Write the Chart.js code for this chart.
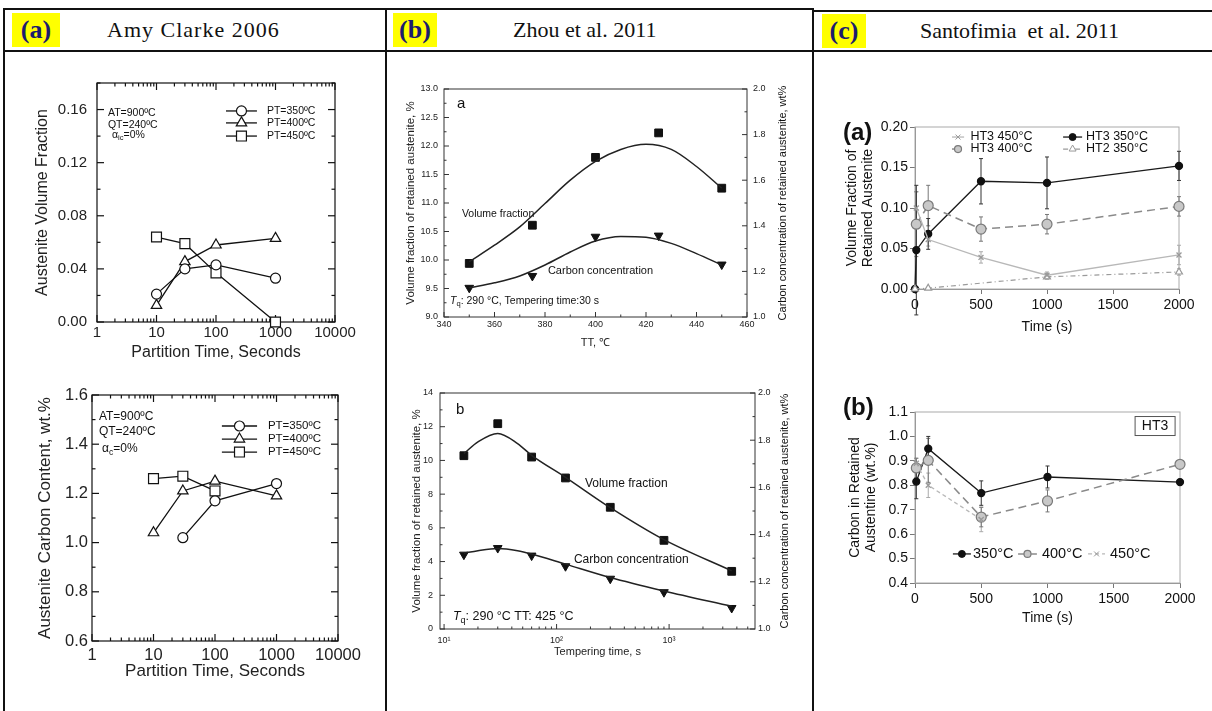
<!DOCTYPE html>
<html>
<head>
<meta charset="utf-8">
<script src="https://cdn.jsdelivr.net/npm/chart.js@4.4.1/dist/chart.umd.min.js"></script>
<style>
body { margin: 0; background: #fff; width: 1212px; height: 711px; overflow: hidden; position: relative; font-family: 'Liberation Serif', serif; }
.ln { position: absolute; background: #111; }
.tag { position: absolute; background: #ffff00; color: #1c1c6e; font-weight: bold; font-size: 26px; line-height: 34px; text-align: center; }
.hd { position: absolute; font-size: 22px; line-height: 34px; color: #111; white-space: pre; }
canvas { position: absolute; }
</style>
</head>
<body>
<div class="ln" style="left:3px;top:8px;width:810px;height:2px"></div>
<div class="ln" style="left:813px;top:10px;width:399px;height:2px"></div>
<div class="ln" style="left:3px;top:50px;width:1209px;height:2px"></div>
<div class="ln" style="left:3px;top:8px;width:2px;height:703px"></div>
<div class="ln" style="left:385px;top:8px;width:2px;height:703px"></div>
<div class="ln" style="left:812px;top:8px;width:2px;height:703px"></div>

<div class="tag" style="left:12px;top:13px;width:48px;height:34px">(a)</div>
<div class="hd" style="left:107px;top:13px;letter-spacing:1px">Amy Clarke 2006</div>
<div class="tag" style="left:393px;top:13px;width:44px;height:34px">(b)</div>
<div class="hd" style="left:513px;top:13px">Zhou et al. 2011</div>
<div class="tag" style="left:822px;top:14px;width:44px;height:34px">(c)</div>
<div class="hd" style="left:920px;top:14px">Santofimia  et al. 2011</div>

<canvas id="a1" width="372" height="300" style="left:6px;top:62px"></canvas>
<canvas id="a2" width="372" height="310" style="left:6px;top:372px"></canvas>
<canvas id="b1" width="410" height="290" style="left:392px;top:66px"></canvas>
<canvas id="b2" width="410" height="290" style="left:392px;top:372px"></canvas>
<canvas id="c1" width="390" height="270" style="left:818px;top:70px"></canvas>
<canvas id="c2" width="390" height="255" style="left:818px;top:380px"></canvas>

<script>
// ---- (a) Clarke 2006: partition time (s) ----
const clarkeTime = [10, 30, 100, 1000];
const clarkeVf350 = [0.021, 0.040, 0.043, 0.033];
const clarkeVf400 = [0.0125, 0.0455, 0.058, 0.063];
const clarkeVf450 = [0.064, 0.059, 0.037, 0.000];
const clarkeC350 = [null, 1.02, 1.17, 1.24];
const clarkeC400 = [1.04, 1.21, 1.25, 1.19];
const clarkeC450 = [1.26, 1.27, 1.21, null];
const clarkeTicks = [1, 10, 100, 1000, 10000];

// ---- (b) Zhou 2011 ----
const zhouTT = [350, 375, 400, 425, 450];
const zhouVfTT = [9.94, 10.61, 11.80, 12.23, 11.26];
const zhouCTT = [1.128, 1.180, 1.352, 1.357, 1.230];
const zhouFitTT = [350, 360, 370, 380, 390, 400, 410, 420, 430, 440, 450];
const zhouVfFitTT = [9.97, 10.26, 10.58, 10.99, 11.40, 11.73, 11.94, 12.03, 11.94, 11.64, 11.26];
const zhouCFitTT = [1.128, 1.150, 1.180, 1.228, 1.285, 1.333, 1.353, 1.350, 1.323, 1.278, 1.228];
const zhouTime = [15, 30, 60, 120, 300, 900, 3600];
const zhouVfTime = [10.28, 12.18, 10.20, 8.96, 7.22, 5.26, 3.42];
const zhouCTime = [1.315, 1.343, 1.311, 1.266, 1.213, 1.156, 1.089];
const zhouFitTime = [15, 20, 30, 45, 60, 120, 300, 900, 3600];
const zhouVfFitTime = [10.4, 11.1, 11.6, 11.0, 10.3, 9.0, 7.2, 5.3, 3.45];
const zhouCFitTime = [1.321, 1.332, 1.341, 1.332, 1.318, 1.275, 1.218, 1.161, 1.096];
const zhouTimeTicks = [10, 100, 1000];
const zhouTimeLabels = ['10¹', '10²', '10³'];

// ---- (c) Santofimia 2011 ----
const htTime = [0, 10, 100, 500, 1000, 2000];
const vfHT3_350 = [0, 0.048, 0.068, 0.133, 0.131, 0.152];
const vfHT3_350Err = [0, 0.08, 0.019, 0.028, 0.032, 0.018];
const vfHT3_400 = [null, 0.080, 0.103, 0.074, 0.080, 0.102];
const vfHT3_400Err = [0, 0.04, 0.025, 0.015, 0.012, 0.012];
const vfHT3_450 = [null, 0.100, 0.061, 0.039, 0.017, 0.042];
const vfHT3_450Err = [0, 0.02, 0.008, 0.007, 0.004, 0.012];
const vfHT2_350 = [0, null, 0.001, null, 0.015, 0.021];
const vfHT2_350Err = [0, 0, 0, 0, 0.003, 0.004];
const cTime = [10, 100, 500, 1000, 2000];
const c350 = [0.815, 0.95, 0.768, 0.834, 0.813];
const c350Err = [0.07, 0.05, 0.05, 0.045, 0];
const c400 = [0.871, 0.902, 0.670, 0.736, 0.886];
const c400Err = [0.04, 0.09, 0.04, 0.045, 0];
const c450 = [0.89, 0.80, 0.66, null, null];
const c450Err = [0.02, 0.05, 0.05, 0, 0];

const FAM = "'Liberation Sans', Arial, sans-serif";
Chart.defaults.font.family = FAM;

const pts = (xs, ys, es) => xs.map((x, i) => ({x: x, y: ys[i], e: es ? es[i] : 0})).filter(p => p.y !== null);

// frame round the plot and inward tick marks on the chosen sides
const frameTicks = {
  id: 'frameTicks',
  beforeDatasetsDraw(chart, args, o) {
    if (!o || !o.color) return;
    const {ctx, chartArea: a} = chart;
    ctx.save();
    ctx.strokeStyle = o.color;
    ctx.lineWidth = o.lw || 1;
    ctx.strokeRect(a.left, a.top, a.right - a.left, a.bottom - a.top);
    (o.axes || []).forEach(ax => {
      const sc = chart.scales[ax.id];
      const major = sc.ticks.map(t => t.value);
      const minor = [];
      if (ax.minor === 'log') {
        for (let d = Math.floor(Math.log10(sc.min)); d <= Math.ceil(Math.log10(sc.max)); d++) {
          for (let k = 2; k <= 9; k++) {
            const v = k * Math.pow(10, d);
            if (v > sc.min && v < sc.max) minor.push(v);
          }
        }
      } else if (ax.minor) {
        for (let v = Math.ceil(sc.min / ax.minor - 1e-9) * ax.minor; v <= sc.max + 1e-9; v += ax.minor) {
          if (!major.some(m => Math.abs(m - v) < 1e-6)) minor.push(v);
        }
      }
      const draw = (v, L) => {
        const p = sc.getPixelForValue(v);
        ax.sides.forEach(s => {
          ctx.beginPath();
          if (s === 'bottom') { ctx.moveTo(p, a.bottom); ctx.lineTo(p, a.bottom - L); }
          if (s === 'top') { ctx.moveTo(p, a.top); ctx.lineTo(p, a.top + L); }
          if (s === 'left') { ctx.moveTo(a.left, p); ctx.lineTo(a.left + L, p); }
          if (s === 'right') { ctx.moveTo(a.right, p); ctx.lineTo(a.right - L, p); }
          ctx.stroke();
        });
      };
      major.forEach(v => draw(v, ax.len));
      minor.forEach(v => draw(v, ax.len / 2));
    });
    ctx.restore();
  }
};

// vertical error bars, e stored with each point
const errorBars = {
  id: 'errorBars',
  beforeDatasetsDraw(chart) {
    const ctx = chart.ctx;
    chart.data.datasets.forEach((ds, i) => {
      const meta = chart.getDatasetMeta(i);
      const ys = chart.scales[meta.yAxisID];
      ctx.save();
      ctx.strokeStyle = ds.errColor || ds.borderColor;
      ctx.lineWidth = 1;
      ds.data.forEach((p, j) => {
        if (!p.e) return;
        const x = meta.data[j].x;
        const y0 = ys.getPixelForValue(p.y - p.e), y1 = ys.getPixelForValue(p.y + p.e);
        ctx.beginPath();
        ctx.moveTo(x, y0); ctx.lineTo(x, y1);
        ctx.moveTo(x - 2, y0); ctx.lineTo(x + 2, y0);
        ctx.moveTo(x - 2, y1); ctx.lineTo(x + 2, y1);
        ctx.stroke();
      });
      ctx.restore();
    });
  }
};

// free text and hand placed legend rows
const notes = {
  id: 'notes',
  afterDraw(chart, args, o) {
    const {ctx, chartArea: a} = chart;
    const W = a.right - a.left, H = a.bottom - a.top;
    const write = (it, x, y) => {
      const size = it.size;
      const fontOf = p => (p.italic ? 'italic ' : '') + (it.bold ? 'bold ' : '') + (p.sub ? size * 0.72 : size) + 'px ' + FAM;
      const parts = it.parts || [{t: it.text}];
      ctx.save();
      ctx.translate(x, y);
      if (it.rot) ctx.rotate(it.rot * Math.PI / 180);
      ctx.fillStyle = it.color || '#111';
      ctx.textBaseline = 'middle';
      let total = 0;
      parts.forEach(p => { ctx.font = fontOf(p); total += ctx.measureText(p.t).width; });
      let cx = it.align === 'center' ? -total / 2 : 0;
      parts.forEach(p => {
        ctx.font = fontOf(p);
        ctx.fillText(p.t, cx, p.sub ? size * 0.3 : 0);
        cx += ctx.measureText(p.t).width;
      });
      if (it.box) {
        ctx.strokeStyle = '#555';
        ctx.lineWidth = 1;
        ctx.strokeRect(-it.box[0] / 2, -it.box[1] / 2, it.box[0], it.box[1]);
      }
      ctx.restore();
    };
    (o.items || []).forEach(it => {
      write(it, a.left + (it.fx || 0) * W + (it.ox || 0), a.top + (it.fy || 0) * H + (it.oy || 0));
    });
    (o.legend || []).forEach(lg => {
      const ds = chart.data.datasets[lg.ds];
      const x0 = a.left + lg.fx0 * W, x1 = a.left + lg.fx1 * W, y = a.top + lg.fy * H;
      ctx.save();
      ctx.strokeStyle = ds.borderColor;
      ctx.lineWidth = ds.borderWidth || 1;
      ctx.setLineDash(ds.borderDash || []);
      ctx.beginPath(); ctx.moveTo(x0, y); ctx.lineTo(x1, y); ctx.stroke();
      ctx.setLineDash([]);
      ctx.fillStyle = ds.pointBackgroundColor || '#fff';
      ctx.strokeStyle = ds.pointBorderColor || ds.borderColor;
      ctx.lineWidth = ds.pointBorderWidth || 1;
      Chart.helpers.drawPoint(ctx, {pointStyle: ds.pointStyle, radius: lg.r || ds.pointRadius, rotation: ds.pointRotation || 0, borderWidth: ctx.lineWidth}, (x0 + x1) / 2, y);
      ctx.restore();
      write({text: lg.text, size: lg.size, color: lg.color}, a.left + lg.tfx * W, y);
    });
  }
};

const base = (pad) => ({
  responsive: false,
  animation: false,
  layout: {padding: pad},
  plugins: {legend: {display: false}, tooltip: {enabled: false}}
});
const noGrid = {display: false, drawTicks: false};

// ---------- (a) Clarke ----------
function clarkeSet(data, style, r) {
  return {data: data, borderColor: '#111', borderWidth: 1.3, pointStyle: style, pointRadius: r,
    pointBackgroundColor: '#fff', pointBorderColor: '#111', pointBorderWidth: 1.2, clip: false, tension: 0};
}
function clarkeScales(opt) {
  return {
    x: {type: 'logarithmic', min: 1, max: 10000,
      afterBuildTicks: s => { s.ticks = clarkeTicks.map(v => ({value: v})); },
      afterFit: s => { s.height = opt.xh; },
      grid: noGrid, border: {display: false},
      ticks: {padding: opt.xpad, color: '#222', maxRotation: 0, autoSkip: false, font: {size: opt.fs}, callback: v => String(v)},
      title: {display: true, text: 'Partition Time, Seconds', color: '#222', font: {size: opt.ts}, padding: {top: 0, bottom: 0}}},
    y: {min: opt.ymin, max: opt.ymax,
      afterFit: s => { s.width = opt.yw; },
      grid: noGrid, border: {display: false},
      ticks: {stepSize: opt.step, includeBounds: false, padding: opt.ypad, color: '#222', font: {size: opt.fs}, callback: v => v.toFixed(opt.dec)},
      title: {display: true, text: opt.ytitle, color: '#222', font: {size: opt.ts}, padding: {top: opt.ytp, bottom: 0}}}
  };
}

const a1 = base({top: 21, right: 43, left: 0, bottom: 0});
a1.scales = clarkeScales({xh: 40, xpad: 2, fs: 15, ts: 16, ymin: 0, ymax: 0.18, yw: 91, step: 0.04, ypad: 10, dec: 2, ytitle: 'Austenite Volume Fraction', ytp: 27});
a1.plugins.frameTicks = {color: '#111', lw: 1.2, axes: [
  {id: 'x', sides: ['bottom', 'top'], minor: 'log', len: 7},
  {id: 'y', sides: ['left', 'right'], minor: 0.02, len: 7}]};
a1.plugins.notes = {
  items: [
    {text: 'AT=900ºC', fx: 0.046, fy: 0.127, size: 10.5},
    {text: 'QT=240ºC', fx: 0.046, fy: 0.176, size: 10.5},
    {parts: [{t: 'α'}, {t: 'ic', sub: true}, {t: '=0%'}], fx: 0.063, fy: 0.218, size: 10.5}
  ],
  legend: [
    {ds: 0, fx0: 0.542, fx1: 0.672, tfx: 0.714, fy: 0.117, text: 'PT=350ºC', size: 10.5},
    {ds: 1, fx0: 0.542, fx1: 0.672, tfx: 0.714, fy: 0.167, text: 'PT=400ºC', size: 10.5},
    {ds: 2, fx0: 0.542, fx1: 0.672, tfx: 0.714, fy: 0.222, text: 'PT=450ºC', size: 10.5}
  ]};
new Chart(document.getElementById('a1'), {
  type: 'line',
  data: {datasets: [
    clarkeSet(pts(clarkeTime, clarkeVf350), 'circle', 5),
    clarkeSet(pts(clarkeTime, clarkeVf400), 'triangle', 6),
    clarkeSet(pts(clarkeTime, clarkeVf450), 'rect', 7)
  ]},
  options: a1,
  plugins: [frameTicks, notes]
});

const a2 = base({top: 23, right: 40, left: 0, bottom: 0});
a2.scales = clarkeScales({xh: 41, xpad: 5, fs: 16.5, ts: 17, ymin: 0.6, ymax: 1.6, yw: 86, step: 0.2, ypad: 4, dec: 1, ytitle: 'Austenite Carbon Content, wt.%', ytp: 29});
a2.plugins.frameTicks = {color: '#111', lw: 1.2, axes: [
  {id: 'x', sides: ['bottom', 'top'], minor: 'log', len: 7},
  {id: 'y', sides: ['left', 'right'], minor: 0.1, len: 7}]};
a2.plugins.notes = {
  items: [
    {text: 'AT=900ºC', fx: 0.028, fy: 0.089, size: 12},
    {text: 'QT=240ºC', fx: 0.028, fy: 0.150, size: 12},
    {parts: [{t: 'α'}, {t: 'c', sub: true}, {t: '=0%'}], fx: 0.041, fy: 0.22, size: 12}
  ],
  legend: [
    {ds: 0, fx0: 0.528, fx1: 0.671, tfx: 0.715, fy: 0.126, text: 'PT=350ºC', size: 11.5},
    {ds: 1, fx0: 0.528, fx1: 0.671, tfx: 0.715, fy: 0.179, text: 'PT=400ºC', size: 11.5},
    {ds: 2, fx0: 0.528, fx1: 0.671, tfx: 0.715, fy: 0.232, text: 'PT=450ºC', size: 11.5}
  ]};
new Chart(document.getElementById('a2'), {
  type: 'line',
  data: {datasets: [
    clarkeSet(pts(clarkeTime, clarkeC350), 'circle', 5),
    clarkeSet(pts(clarkeTime, clarkeC400), 'triangle', 6),
    clarkeSet(pts(clarkeTime, clarkeC450), 'rect', 7)
  ]},
  options: a2,
  plugins: [frameTicks, notes]
});

// ---------- (b) Zhou ----------
function zhouMarks(data, axis, down) {
  return {data: data, yAxisID: axis, showLine: false, pointStyle: down ? 'triangle' : 'rect',
    pointRotation: down ? 180 : 0, pointRadius: down ? 5 : 5.5, pointBackgroundColor: '#111',
    pointBorderColor: '#111', borderColor: '#111', clip: false};
}
function zhouFit(data, axis) {
  return {data: data, yAxisID: axis, borderColor: '#222', borderWidth: 1.5, pointRadius: 0,
    cubicInterpolationMode: 'monotone', fill: false};
}
function zhouY(opt) {
  return {
    y: {min: opt.ymin, max: opt.ymax, afterFit: s => { s.width = opt.yw; },
      grid: noGrid, border: {display: false},
      ticks: {stepSize: opt.ystep, padding: opt.ypad, color: '#222', font: {size: 9}, callback: v => v.toFixed(opt.ydec)},
      title: {display: true, text: 'Volume fraction of retained austenite, %', color: '#222', font: {size: 11.5}, padding: {top: opt.ytp, bottom: 0}}},
    y2: {position: 'right', min: 1, max: 2, afterFit: s => { s.width = opt.y2w; },
      grid: noGrid, border: {display: false},
      ticks: {stepSize: 0.2, padding: opt.y2pad, color: '#222', font: {size: 9}, callback: v => v.toFixed(1)}}
  };
}

const b1 = base({top: 23, right: 0, left: 0, bottom: 0});
b1.scales = Object.assign({
  x: {type: 'linear', min: 340, max: 460, afterFit: s => { s.height = 39; },
    grid: noGrid, border: {display: false},
    ticks: {stepSize: 20, padding: 2, color: '#222', font: {size: 9}},
    title: {display: true, text: 'TT, ℃', color: '#222', font: {size: 11}, padding: {top: 0, bottom: 6}}}
}, zhouY({ymin: 9, ymax: 13, yw: 52, ystep: 0.5, ypad: 6, ydec: 1, ytp: 12, y2w: 55, y2pad: 6}));
b1.plugins.frameTicks = {color: '#333', lw: 1, axes: [
  {id: 'x', sides: ['bottom'], minor: 10, len: 5},
  {id: 'y', sides: ['left'], minor: 0.25, len: 5},
  {id: 'y2', sides: ['right'], minor: 0.1, len: 5}]};
b1.plugins.notes = {items: [
  {text: 'a', fx: 0.043, fy: 0.066, size: 15},
  {text: 'Volume fraction', fx: 0.059, fy: 0.548, size: 10.5},
  {text: 'Carbon concentration', fx: 0.343, fy: 0.798, size: 11},
  {parts: [{t: 'T', italic: true}, {t: 'q', sub: true}, {t: ': 290 °C, Tempering time:30 s'}], fx: 0.02, fy: 0.93, size: 10.5},
  {text: 'Carbon concentration of retained austenite, wt%', fx: 1, ox: 36, fy: 0.5, rot: -90, align: 'center', size: 11}
]};
new Chart(document.getElementById('b1'), {
  type: 'line',
  data: {datasets: [
    zhouFit(pts(zhouFitTT, zhouVfFitTT), 'y'),
    zhouFit(pts(zhouFitTT, zhouCFitTT), 'y2'),
    zhouMarks(pts(zhouTT, zhouVfTT), 'y', false),
    zhouMarks(pts(zhouTT, zhouCTT), 'y2', true)
  ]},
  options: b1,
  plugins: [frameTicks, notes]
});

const b2 = base({top: 21, right: 0, left: 0, bottom: 0});
b2.scales = Object.assign({
  x: {type: 'logarithmic', min: 9.2, max: 5800, afterFit: s => { s.height = 33; },
    afterBuildTicks: s => { s.ticks = zhouTimeTicks.map(v => ({value: v})); },
    grid: noGrid, border: {display: false},
    ticks: {padding: 6, color: '#222', font: {size: 9}, autoSkip: false, maxRotation: 0,
      callback: v => zhouTimeLabels[zhouTimeTicks.indexOf(v)]},
    title: {display: true, text: 'Tempering time, s', color: '#222', font: {size: 11}, padding: {top: 0, bottom: 3}}}
}, zhouY({ymin: 0, ymax: 14, yw: 48, ystep: 2, ypad: 7, ydec: 0, ytp: 18, y2w: 47, y2pad: 3}));
b2.plugins.frameTicks = {color: '#333', lw: 1, axes: [
  {id: 'x', sides: ['bottom'], minor: 'log', len: 5},
  {id: 'y', sides: ['left'], minor: 1, len: 5},
  {id: 'y2', sides: ['right'], minor: 0.1, len: 5}]};
b2.plugins.notes = {items: [
  {text: 'b', fx: 0.051, fy: 0.072, size: 15},
  {text: 'Volume fraction', fx: 0.46, fy: 0.386, size: 12},
  {text: 'Carbon concentration', fx: 0.425, fy: 0.708, size: 12},
  {parts: [{t: 'T', italic: true}, {t: 'q', sub: true}, {t: ': 290 °C TT: 425 °C'}], fx: 0.041, fy: 0.949, size: 12.5},
  {text: 'Carbon concentration of retained austenite, wt%', fx: 1, ox: 30, fy: 0.5, rot: -90, align: 'center', size: 11}
]};
new Chart(document.getElementById('b2'), {
  type: 'line',
  data: {datasets: [
    zhouFit(pts(zhouFitTime, zhouVfFitTime), 'y'),
    zhouFit(pts(zhouFitTime, zhouCFitTime), 'y2'),
    zhouMarks(pts(zhouTime, zhouVfTime), 'y', false),
    zhouMarks(pts(zhouTime, zhouCTime), 'y2', true)
  ]},
  options: b2,
  plugins: [frameTicks, notes]
});

// ---------- (c) Santofimia ----------
const s350 = d => ({data: d, borderColor: '#1a1a1a', borderWidth: 1.3, pointStyle: 'circle', pointRadius: 3.5,
  pointBackgroundColor: '#111', pointBorderColor: '#111', errColor: '#333', clip: false});
const s400 = d => ({data: d, borderColor: '#8a8a8a', borderWidth: 1.5, borderDash: [8, 5], pointStyle: 'circle', pointRadius: 5,
  pointBackgroundColor: '#c8c8c8', pointBorderColor: '#7a7a7a', pointBorderWidth: 1.2, errColor: '#777', clip: false});
const s450 = (d, dash) => ({data: d, borderColor: '#b8b8b8', borderWidth: 1.3, borderDash: dash || [], pointStyle: 'crossRot', pointRadius: 3.5,
  pointBackgroundColor: '#999', pointBorderColor: '#999', errColor: '#aaa', clip: false});
const sHT2 = d => ({data: d, borderColor: '#9a9a9a', borderWidth: 1.2, borderDash: [5, 3, 1, 3], pointStyle: 'triangle', pointRadius: 4,
  pointBackgroundColor: '#fff', pointBorderColor: '#999', errColor: '#aaa', clip: false});

function santoScales(opt) {
  return {
    x: {type: 'linear', min: 0, max: 2000, afterFit: s => { s.height = opt.xh; },
      grid: {display: true, drawOnChartArea: false, tickLength: 5, color: '#777'}, border: {display: true, color: '#888'},
      ticks: {stepSize: 500, padding: 3, color: '#111', font: {size: 14}, callback: v => String(v)},
      title: {display: true, text: 'Time (s)', color: '#111', font: {size: 14}, padding: {top: 0, bottom: opt.xtp}}},
    y: {min: opt.ymin, max: opt.ymax, afterFit: s => { s.width = 97; },
      grid: {display: true, drawOnChartArea: false, tickLength: 5, color: '#777'}, border: {display: true, color: '#888'},
      ticks: {stepSize: opt.step, padding: 2, color: '#111', font: {size: 14}, callback: v => v.toFixed(opt.dec)},
      title: {display: true, text: opt.ytitle, color: '#111', font: {size: 14, lineHeight: 1.15}, padding: {top: opt.ytp, bottom: 0}}}
  };
}

const c1 = base({top: 57, right: 29, left: 0, bottom: 0});
c1.scales = santoScales({xh: 51, xtp: 4, ymin: 0, ymax: 0.2, step: 0.05, dec: 2, ytitle: ['Volume Fraction of', 'Retained Austenite'], ytp: 26});
c1.plugins.frameTicks = {color: '#aaa', lw: 1, axes: []};
c1.plugins.notes = {
  items: [{text: '(a)', bold: true, ox: -72, oy: 6, size: 24}],
  legend: [
    {ds: 0, fx0: 0.14, fx1: 0.186, tfx: 0.21, fy: 0.062, text: 'HT3 450°C', size: 12.5},
    {ds: 3, fx0: 0.561, fx1: 0.633, tfx: 0.648, fy: 0.062, text: 'HT3 350°C', size: 12.5},
    {ds: 2, fx0: 0.14, fx1: 0.186, tfx: 0.21, fy: 0.136, text: 'HT3 400°C', size: 12.5, r: 3.5},
    {ds: 1, fx0: 0.561, fx1: 0.633, tfx: 0.648, fy: 0.136, text: 'HT2 350°C', size: 12.5}
  ]};
new Chart(document.getElementById('c1'), {
  type: 'line',
  data: {datasets: [
    s450(pts(htTime, vfHT3_450, vfHT3_450Err)),
    sHT2(pts(htTime, vfHT2_350, vfHT2_350Err)),
    s400(pts(htTime, vfHT3_400, vfHT3_400Err)),
    s350(pts(htTime, vfHT3_350, vfHT3_350Err))
  ]},
  options: c1,
  plugins: [frameTicks, errorBars, notes]
});

const c2 = base({top: 32, right: 28, left: 0, bottom: 0});
c2.scales = santoScales({xh: 52, xtp: 8, ymin: 0.4, ymax: 1.1, step: 0.1, dec: 1, ytitle: ['Carbon in Retained', 'Austentine (wt.%)'], ytp: 29});
c2.plugins.frameTicks = {color: '#aaa', lw: 1, axes: []};
c2.plugins.notes = {
  items: [
    {text: '(b)', bold: true, ox: -72, oy: -4, size: 24},
    {text: 'HT3', fx: 0.906, fy: 0.082, align: 'center', size: 14, box: [40, 19]}
  ],
  legend: [
    {ds: 2, fx0: 0.143, fx1: 0.211, tfx: 0.219, fy: 0.83, text: '350°C', size: 14.5},
    {ds: 1, fx0: 0.389, fx1: 0.46, tfx: 0.479, fy: 0.83, text: '400°C', size: 14.5, r: 3.5},
    {ds: 0, fx0: 0.653, fx1: 0.717, tfx: 0.736, fy: 0.83, text: '450°C', size: 14.5}
  ]};
new Chart(document.getElementById('c2'), {
  type: 'line',
  data: {datasets: [
    s450(pts(cTime, c450, c450Err), [4, 3]),
    s400(pts(cTime, c400, c400Err)),
    s350(pts(cTime, c350, c350Err))
  ]},
  options: c2,
  plugins: [frameTicks, errorBars, notes]
});
</script>
</body>
</html>
